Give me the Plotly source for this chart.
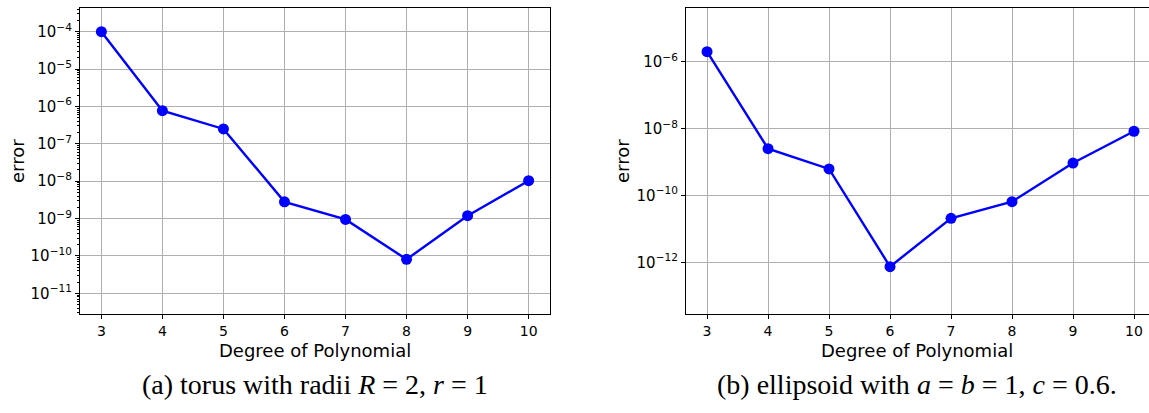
import plotly.graph_objects as go

degrees = [3, 4, 5, 6, 7, 8, 9, 10]
torus_error = [1.0e-4, 7.7e-7, 2.5e-7, 2.8e-9, 9.5e-10, 8.1e-11, 1.19e-9, 1.03e-8]
ellipsoid_error = [2.0e-6, 2.5e-9, 6.2e-10, 7.4e-13, 2.07e-11, 6.5e-11, 9.3e-10, 8.3e-9]

left_yticks = [1e-4, 1e-5, 1e-6, 1e-7, 1e-8, 1e-9, 1e-10, 1e-11]
left_ytext = ["10<sup>−4</sup>", "10<sup>−5</sup>", "10<sup>−6</sup>", "10<sup>−7</sup>",
              "10<sup>−8</sup>", "10<sup>−9</sup>", "10<sup>−10</sup>", "10<sup>−11</sup>"]
right_yticks = [1e-6, 1e-8, 1e-10, 1e-12]
right_ytext = ["10<sup>−6</sup>", "10<sup>−8</sup>", "10<sup>−10</sup>", "10<sup>−12</sup>"]

caption_a = "(a) torus with radii <i>R</i> = 2, <i>r</i> = 1"
caption_b = "(b) ellipsoid with <i>a</i> = <i>b</i> = 1, <i>c</i> = 0.6."
xlabel = "Degree of Polynomial"
ylabel = "error"

W, H = 1149, 413
BLUE = "#0000ff"
GRID = "#b0b0b0"
XTICKFONT = dict(family="DejaVu Sans", size=14, color="black")
YTICKFONT = dict(family="DejaVu Sans", size=15, color="black")
LABELFONT = dict(family="DejaVu Sans", size=18, color="black")
CAPFONT = dict(family="Liberation Serif", size=28, color="black")

fig = go.Figure()
fig.add_trace(go.Scatter(x=degrees, y=torus_error, mode="lines+markers",
                         line=dict(color=BLUE, width=2.4),
                         marker=dict(color=BLUE, size=11),
                         xaxis="x", yaxis="y", showlegend=False))
fig.add_trace(go.Scatter(x=degrees, y=ellipsoid_error, mode="lines+markers",
                         line=dict(color=BLUE, width=2.4),
                         marker=dict(color=BLUE, size=11),
                         xaxis="x2", yaxis="y2", showlegend=False))

def px_x(p):
    return p / W

def px_y(p):
    return 1 - p / H

common_x = dict(tickvals=degrees, ticktext=[str(d) for d in degrees],
                showgrid=True, gridcolor=GRID, gridwidth=1.3,
                showline=True, linecolor="black", linewidth=1.3,
                ticks="outside", ticklen=4, tickcolor="black", tickwidth=1,
                tickfont=XTICKFONT, zeroline=False)
common_y = dict(type="log", showgrid=True, gridcolor=GRID, gridwidth=1.3,
                showline=True, linecolor="black", linewidth=1.3,
                ticks="outside", ticklen=4, tickcolor="black", tickwidth=1,
                tickfont=YTICKFONT, zeroline=False)

fig.update_layout(
    width=W, height=H,
    margin=dict(l=0, r=0, t=0, b=0),
    paper_bgcolor="white", plot_bgcolor="white",
    xaxis=dict(domain=[px_x(80), px_x(550)], range=[2.65, 10.35],
               anchor="y", mirror=True, **common_x),
    yaxis=dict(domain=[px_y(314), px_y(8)], range=[-11.554, -3.366],
               anchor="x", mirror=True,
               tickvals=left_yticks, ticktext=left_ytext,
               minor=dict(ticks="outside", ticklen=2, tickcolor="black",
                          tickwidth=1, dtick="D1", showgrid=False),
               **common_y),
    xaxis2=dict(domain=[px_x(686), 1.0], range=[2.655, 10.246],
                anchor="y2", mirror=True, **common_x),
    yaxis2=dict(domain=[px_y(314), px_y(8)], range=[-13.547, -4.394],
                anchor="x2", tickvals=right_yticks, ticktext=right_ytext,
                **common_y),
)

annos = [
    dict(text=xlabel, x=px_x(315), y=px_y(350), font=LABELFONT),
    dict(text=xlabel, x=px_x(917), y=px_y(350), font=LABELFONT),
    dict(text=ylabel, x=px_x(17), y=px_y(161), textangle=-90, font=LABELFONT),
    dict(text=ylabel, x=px_x(622), y=px_y(161), textangle=-90, font=LABELFONT),
    dict(text=caption_a, x=px_x(315), y=px_y(384), font=CAPFONT),
    dict(text=caption_b, x=px_x(917), y=px_y(384), font=CAPFONT),
]
for a in annos:
    fig.add_annotation(xref="paper", yref="paper", showarrow=False,
                       xanchor="center", yanchor="middle", **a)

fig.write_html("out.html")
